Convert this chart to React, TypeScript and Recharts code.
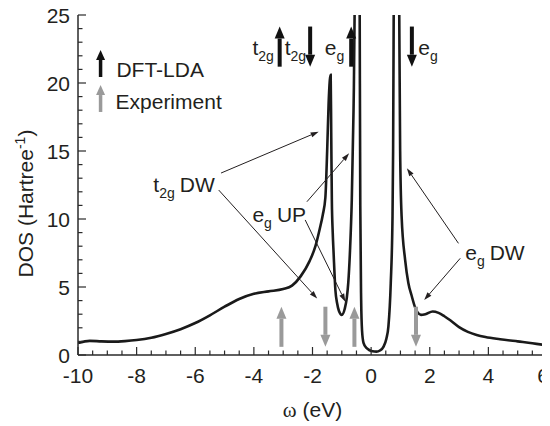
import React from "react";
import { ComposedChart, Line, XAxis, YAxis, ReferenceLine, ReferenceDot } from "recharts";

// energy grid (eV) and DOS (1/Hartree)
const omega = [
  -10, -9.6, -9.2, -8.8, -8.4, -8, -7.5, -7, -6.5, -6,
  -5.5, -5, -4.5, -4, -3.5, -3, -2.7, -2.4, -2.1, -1.9,
  -1.75, -1.65, -1.56, -1.5, -1.45, -1.41, -1.38, -1.36, -1.34, -1.31,
  -1.28, -1.22, -1.16, -1.1, -1, -0.9, -0.83, -0.78, -0.72, -0.66,
  -0.6, -0.55, -0.47, -0.39, -0.37, -0.34, -0.31, -0.26, -0.15, -0.05,
  0.05, 0.18, 0.3, 0.42, 0.52, 0.59, 0.67, 0.73, 0.75, 0.77,
  0.85, 0.96, 0.99, 1.04, 1.16, 1.27, 1.39, 1.5, 1.58, 1.7,
  1.85, 2.1, 2.3, 2.5, 2.7, 3, 3.3, 3.6, 3.9, 4.4,
  5, 5.5, 6,
];
const dos = [
  0.88, 1.04, 1.0, 0.98, 1.02, 1.1, 1.27, 1.55, 1.9, 2.35,
  2.92, 3.55, 4.12, 4.5, 4.68, 4.85, 5.1, 5.8, 6.9, 8.0,
  9.3, 10.3, 11.6, 15, 18.5, 20.2, 20.6, 16, 11.4, 9,
  7.5, 4.8, 3.8, 3.25, 2.95, 3.4, 4.2, 5.3, 7.7, 11.4,
  18, 28, 80, 25, 11, 4, 1.8, 0.9, 0.5, 0.35,
  0.27, 0.25, 0.33, 0.6, 1.2, 2.1, 5.3, 10.2, 15, 25,
  80, 25, 15, 10.2, 7, 5.3, 4.3, 3.5, 3.15, 2.95,
  3.0, 3.2, 3.1, 2.85, 2.55, 2.05, 1.7, 1.47, 1.32, 1.16,
  1.0, 0.87, 0.7,
];

// peak positions marked by arrows (eV)
const dftUp = [-3.12, -0.68];
const dftDown = [-2.08, 1.39];
const exptUp = [-3.06, -0.57];
const exptDown = [-1.56, 1.53];

const xTicks = [
  -10, -9.5, -9, -8.5, -8, -7.5, -7, -6.5, -6, -5.5, -5, -4.5, -4, -3.5, -3, -2.5, -2,
  -1.5, -1, -0.5, 0, 0.5, 1, 1.5, 2, 2.5, 3, 3.5, 4, 4.5, 5, 5.5, 6,
];
const xLabels = [-10, -8, -6, -4, -2, 0, 2, 4, 6];
const yTicks = [0, 1, 2, 3, 4, 5, 6, 7, 8, 9, 10, 11, 12, 13, 14, 15, 16, 17, 18, 19, 20, 21, 22, 23, 24, 25];
const yLabels = [0, 5, 10, 15, 20, 25];

const data = omega.map((w, i) => ({ w, dos: dos[i] }));

const FONT = "'Liberation Sans', Arial, Helvetica, sans-serif";
const FS = 21;
const INK = "#231f20";
const AXIS = "#2a2a2a";
const GRAY = "#9a9a9a";

const arrow = (color: string, shaft: number, headL: number, headW: number) => (p: any) => {
  const { x1, y1, x2, y2 } = p;
  const dx = x2 - x1;
  const dy = y2 - y1;
  const len = Math.hypot(dx, dy) || 1;
  const ux = dx / len;
  const uy = dy / len;
  const bx = x2 - ux * headL;
  const by = y2 - uy * headL;
  const nx = -uy * headW;
  const ny = ux * headW;
  return (
    <g>
      <line x1={x1} y1={y1} x2={bx} y2={by} stroke={color} strokeWidth={shaft} />
      <polygon points={`${x2},${y2} ${bx + nx},${by + ny} ${bx - nx},${by - ny}`} fill={color} />
    </g>
  );
};

const label = (main: string, sub?: string, rest?: string) => (p: any) => (
  <text x={p.cx} y={p.cy} fontFamily={FONT} fontSize={FS} fill={INK}>
    {main}
    {sub && (
      <tspan dy={6} fontSize={14}>
        {sub}
      </tspan>
    )}
    {rest && (
      <tspan dy={-6} dx={5} fontSize={FS}>
        {rest}
      </tspan>
    )}
  </text>
);

const BottomTick = (p: any) => {
  const { x, y, payload } = p;
  const major = xLabels.includes(payload.value);
  const last = payload.value === xLabels[xLabels.length - 1];
  return (
    <g>
      <line x1={x} y1={y} x2={x} y2={y - (major ? 8 : 4.5)} stroke={AXIS} strokeWidth={1.2} />
      {major && (
        <text
          x={last ? x + 2 : x}
          y={y + 28}
          textAnchor={last ? "end" : "middle"}
          fontFamily={FONT}
          fontSize={FS}
          fill={INK}
        >
          {payload.value}
        </text>
      )}
    </g>
  );
};

const TopTick = (p: any) => {
  const { x, y, payload } = p;
  const major = xLabels.includes(payload.value);
  return <line x1={x} y1={y} x2={x} y2={y + (major ? 8 : 4.5)} stroke={AXIS} strokeWidth={1.2} />;
};

const LeftTick = (p: any) => {
  const { x, y, payload } = p;
  const major = yLabels.includes(payload.value);
  return (
    <g>
      <line x1={x} y1={y} x2={x + (major ? 8 : 4.5)} y2={y} stroke={AXIS} strokeWidth={1.2} />
      {major && (
        <text x={x - 8} y={y + 7.5} textAnchor="end" fontFamily={FONT} fontSize={FS} fill={INK}>
          {payload.value}
        </text>
      )}
    </g>
  );
};

const RightTick = (p: any) => {
  const { x, y, payload } = p;
  const major = yLabels.includes(payload.value);
  return <line x1={x} y1={y} x2={x - (major ? 8 : 4.5)} y2={y} stroke={AXIS} strokeWidth={1.2} />;
};

const YTitle = (p: any) => {
  const vb = p.viewBox;
  const x = vb.x + 25;
  const y = vb.y + 188.5;
  return (
    <text transform={`rotate(-90, ${x}, ${y})`} x={x} y={y} textAnchor="middle" fontFamily={FONT} fontSize={FS} fill={INK}>
      DOS (Hartree
      <tspan dy={-8} fontSize={14}>
        -1
      </tspan>
      <tspan dy={8}>)</tspan>
    </text>
  );
};

const XTitle = (p: any) => {
  const vb = p.viewBox;
  return (
    <text x={vb.x + vb.width / 2} y={vb.y + 62} textAnchor="middle" fontFamily={FONT} fontSize={FS} fill={INK}>
      <tspan fontFamily="'Liberation Serif', 'Times New Roman', serif">ω</tspan> (eV)
    </text>
  );
};

const seg = (x1: number, y1: number, x2: number, y2: number) => [
  { x: x1, y: y1 },
  { x: x2, y: y2 },
];

const bigBlack = arrow("#111", 4, 12, 5);
const bigGray = arrow(GRAY, 4, 12, 5);
const thin = arrow(INK, 1, 8, 2.6);

export default function App() {
  return (
    <div style={{ marginTop: -8 }}>
      <ComposedChart width={542} height={426} data={data} margin={{ top: 15, right: 3, bottom: 0, left: 0 }}>
        <XAxis
          dataKey="w"
          type="number"
          domain={[-10, 6]}
          allowDataOverflow
          ticks={xTicks}
          interval={0}
          tickLine={false}
          tickSize={0}
          tickMargin={0}
          tick={BottomTick}
          axisLine={{ stroke: AXIS, strokeWidth: 1.5 }}
          height={71}
          label={{ content: XTitle }}
        />
        <XAxis
          xAxisId="top"
          orientation="top"
          type="number"
          domain={[-10, 6]}
          allowDataOverflow
          ticks={xTicks}
          interval={0}
          tickLine={false}
          tickSize={0}
          tickMargin={0}
          tick={TopTick}
          axisLine={{ stroke: AXIS, strokeWidth: 1.5 }}
          height={0}
        />
        <YAxis
          type="number"
          domain={[0, 25]}
          allowDataOverflow
          ticks={yTicks}
          interval={0}
          tickLine={false}
          tickSize={0}
          tickMargin={0}
          tick={LeftTick}
          axisLine={{ stroke: AXIS, strokeWidth: 1.5 }}
          width={70}
          label={{ content: YTitle }}
        />
        <YAxis
          yAxisId="right"
          orientation="right"
          type="number"
          domain={[0, 25]}
          allowDataOverflow
          ticks={yTicks}
          interval={0}
          tickLine={false}
          tickSize={0}
          tickMargin={0}
          tick={RightTick}
          axisLine={{ stroke: AXIS, strokeWidth: 1.5 }}
          width={0}
        />
        <Line dataKey="dos" type="monotone" stroke="#1a1a1a" strokeWidth={2.6} dot={false} isAnimationActive={false} />

        {/* DFT-LDA peak positions */}
        {dftUp.map((x) => (
          <ReferenceLine key={`du${x}`} segment={seg(x, 21.2, x, 24.15)} ifOverflow="visible" shape={bigBlack} />
        ))}
        {dftDown.map((x) => (
          <ReferenceLine key={`dd${x}`} segment={seg(x, 24.15, x, 21.2)} ifOverflow="visible" shape={bigBlack} />
        ))}
        {/* experimental peak positions */}
        {exptUp.map((x) => (
          <ReferenceLine key={`eu${x}`} segment={seg(x, 0.6, x, 3.55)} ifOverflow="visible" shape={bigGray} />
        ))}
        {exptDown.map((x) => (
          <ReferenceLine key={`ed${x}`} segment={seg(x, 3.55, x, 0.6)} ifOverflow="visible" shape={bigGray} />
        ))}

        {/* legend */}
        <ReferenceLine segment={seg(-9.23, 20.44, -9.23, 22.43)} ifOverflow="visible" shape={arrow("#111", 3.5, 10, 4.5)} />
        <ReferenceLine segment={seg(-9.23, 17.87, -9.23, 19.85)} ifOverflow="visible" shape={arrow(GRAY, 3.5, 10, 4.5)} />
        <ReferenceDot x={-8.69} y={20.44} r={0} ifOverflow="visible" shape={label("DFT-LDA")} />
        <ReferenceDot x={-8.72} y={18.09} r={0} ifOverflow="visible" shape={label("Experiment")} />

        {/* orbital labels at top */}
        <ReferenceDot x={-4.05} y={22.06} r={0} ifOverflow="visible" shape={label("t", "2g")} />
        <ReferenceDot x={-2.95} y={22.06} r={0} ifOverflow="visible" shape={label("t", "2g")} />
        <ReferenceDot x={-1.58} y={22.06} r={0} ifOverflow="visible" shape={label("e", "g")} />
        <ReferenceDot x={1.61} y={22.06} r={0} ifOverflow="visible" shape={label("e", "g")} />

        {/* feature annotations */}
        <ReferenceDot x={-7.43} y={11.99} r={0} ifOverflow="visible" shape={label("t", "2g", "DW")} />
        <ReferenceDot x={-4.05} y={9.78} r={0} ifOverflow="visible" shape={label("e", "g", "UP")} />
        <ReferenceDot x={3.21} y={6.99} r={0} ifOverflow="visible" shape={label("e", "g", "DW")} />
        <ReferenceLine segment={seg(-5.12, 13.38, -1.79, 16.42)} ifOverflow="visible" shape={thin} />
        <ReferenceLine segment={seg(-5.2, 12.13, -1.84, 4.15)} ifOverflow="visible" shape={thin} />
        <ReferenceLine segment={seg(-2.19, 11.27, -0.75, 14.83)} ifOverflow="visible" shape={thin} />
        <ReferenceLine segment={seg(-2.25, 9.93, -0.88, 3.92)} ifOverflow="visible" shape={thin} />
        <ReferenceLine segment={seg(2.98, 8.21, 1.22, 13.73)} ifOverflow="visible" shape={thin} />
        <ReferenceLine segment={seg(3.04, 7.11, 1.81, 4.04)} ifOverflow="visible" shape={thin} />
      </ComposedChart>
    </div>
  );
}
